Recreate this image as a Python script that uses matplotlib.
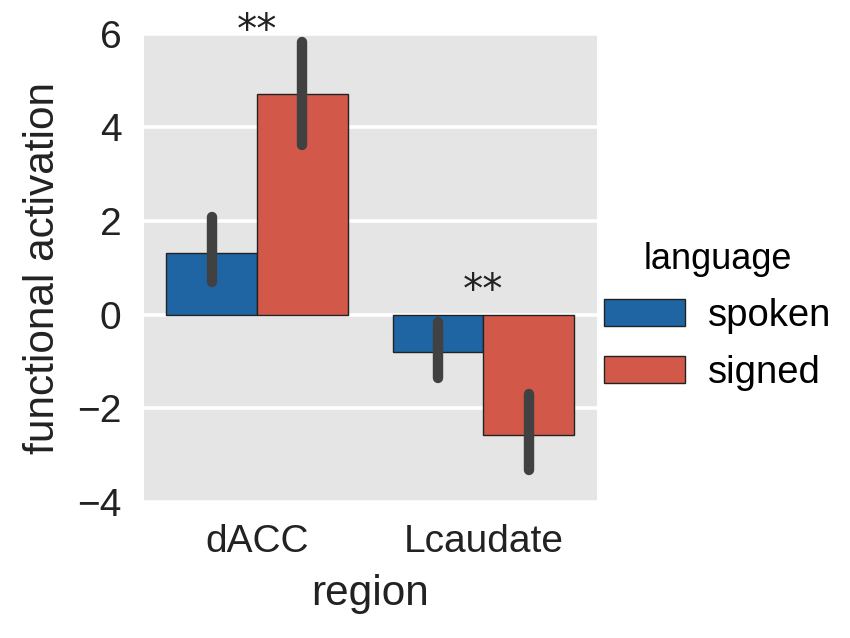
import matplotlib
matplotlib.use("Agg")
import matplotlib.pyplot as plt
import numpy as np

regions = ["dACC", "Lcaudate"]
languages = ["spoken", "signed"]
means = {"spoken": [1.33, -0.79], "signed": [4.72, -2.57]}
ci_low = {"spoken": [0.70, -1.36], "signed": [3.62, -3.32]}
ci_high = {"spoken": [2.08, -0.15], "signed": [5.83, -1.70]}
star_labels = ["**", "**"]
star_y = [5.80, 0.25]
yticks = [-4, -2, 0, 2, 4, 6]

colors = {"spoken": "#2065a3", "signed": "#d2594a"}

plt.rcParams['font.family'] = ['Liberation Sans', 'DejaVu Sans']
fig = plt.figure(figsize=(8.5, 6.38), dpi=100)
ax = fig.add_axes([0.169, 0.213, 0.533, 0.734])
ax.set_facecolor("#e5e5e5")
for s in ax.spines.values():
    s.set_visible(False)
ax.grid(axis='y', color='white', linewidth=2.6)
ax.set_axisbelow(True)

x = np.arange(len(regions))
w = 0.4
for i, lang in enumerate(languages):
    pos = x + (i - 0.5) * w
    ax.bar(pos, means[lang], width=w, color=colors[lang], edgecolor="#222222",
           linewidth=1.0, label=lang, zorder=2)
    for p, lo, hi in zip(pos, ci_low[lang], ci_high[lang]):
        ax.plot([p, p], [lo, hi], color="#414141", linewidth=7.5,
                solid_capstyle='round', zorder=3)

for xi, lab, yy in zip(x, star_labels, star_y):
    ax.text(xi, yy, lab, ha='center', va='baseline', fontsize=29, color='#222222',
            family='DejaVu Sans', zorder=4, clip_on=False)

ax.set_xlim(-0.5, 1.5)
ax.set_ylim(-4, 6)
ax.set_yticks(yticks)
ax.set_yticklabels([str(t).replace('-', '\u2212') for t in yticks])
ax.set_xticks(x)
ax.set_xticklabels(regions)
ax.tick_params(axis='both', length=0, labelsize=28, colors='#222222')
ax.tick_params(axis='y', pad=16)
ax.tick_params(axis='x', pad=16)
ax.set_xlabel("region", fontsize=30.5, color='#222222', labelpad=10)
ax.set_ylabel("functional activation", fontsize=30.5, color='#222222', labelpad=10)

leg = ax.legend(title="language", loc='center left', bbox_to_anchor=(1.0, 0.397),
                frameon=False, fontsize=27.5, title_fontsize=26,
                handlelength=2.1, handleheight=0.73, handletextpad=0.6,
                labelspacing=0.55, borderpad=0.1, borderaxespad=0.1)

fig.savefig("out.png", dpi=100, facecolor='white')
